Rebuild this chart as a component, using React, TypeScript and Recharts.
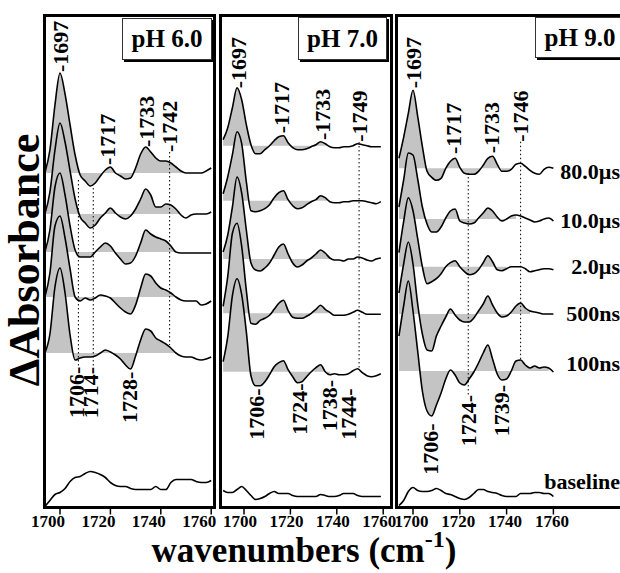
import {
  Area,
  ComposedChart,
  Line,
  ReferenceArea,
  ReferenceDot,
  ReferenceLine,
  XAxis,
  YAxis,
} from "recharts";

const FONT = "'Liberation Serif', 'Times New Roman', Times, serif";
const FILL = "#c4c4c4";

const tickValues = [1700, 1720, 1740, 1760];
const delayLabels = ["80.0µs", "10.0µs", "2.0µs", "500ns", "100ns"];

const wn6 = [
  1694, 1696, 1698, 1700, 1702, 1704, 1706, 1708, 1710, 1712, 1714, 1716,
  1718, 1720, 1722, 1724, 1726, 1728, 1730, 1732, 1734, 1736, 1738, 1740,
  1742, 1744, 1746, 1748, 1750, 1752, 1754, 1756, 1758, 1760,
];
const ph6_80us = [0, 23, 68, 100, 79, 48, 18, -2, -8, -13, -10, -3, 3, 6, 0, -3, -6, -5, 5, 19, 26, 21, 15, 12, 12, 10, 6, 2, 0, 0, 0, 0, 2, 5];
const ph6_10us = [0, 22, 64, 91, 72, 43, 15, -3, -9, -14, -11, -4, 1, 6, 1, -3, -5, -2, 5, 15, 25, 19, 7, 7, 10, 9, 5, -1, -4, -1, 0, 0, 0, 2];
const ph6_2us = [0, 22, 65, 79, 57, 26, 2, -5, -5, -5, 0, 5, 9, 6, -1, -7, -12, -11, -4, 9, 22, 18, 15, 13, 11, 6, 0, -1, -1, -1, -1, -1, -1, -1];
const ph6_500ns = [0, 24, 71, 81, 59, 28, 0, -4, -1, -3, -1, 2, 1, -1, -6, -11, -15, -17, -8, 9, 23, 21, 14, 9, 7, 4, 0, -3, -4, -4, -4, -8, -7, -4];
const ph6_100ns = [0, 19, 66, 85, 60, 18, -7, -5, -4, -4, -3, 0, 3, 1, -2, -6, -12, -16, -3, 13, 24, 22, 15, 12, 9, 5, 0, -3, -4, -4, -6, -7, -6, -4];
const ph6_base = [1, 7, 13, 15, 19, 26, 30, 31, 34, 36, 35, 33, 30, 25, 22, 21, 21, 19, 18, 18, 18, 18, 21, 18, 18, 25, 28, 28, 28, 28, 26, 25, 25, 27];
const ph6_offsets = [334.5, 293.5, 255.5, 210.5, 154.5];
const ph6_fillTo = [1750, 1748, 1746, 1746, 1746];

// ---- pH 7.0 ----
const wn7 = [
  1691, 1693, 1695, 1697, 1699, 1701, 1703, 1705, 1707, 1709, 1711, 1713,
  1715, 1717, 1719, 1721, 1723, 1725, 1727, 1729, 1731, 1733, 1735, 1737,
  1739, 1741, 1743, 1745, 1747, 1749, 1751, 1753, 1755, 1757, 1759,
];
const ph7_80us = [6, 18, 38, 58, 46, 21, 1, -8, -8, -4, 0, 5, 9, 10, 3, -2, -4, -4, -3, -1, 1, 4, 2, -1, -2, -2, -1, -1, 0, 2, 1, 0, -1, -1, -1];
const ph7_10us = [7, 24, 46, 69, 57, 19, -10, -11, -10, -8, -4, 3, 8, 10, 1, -5, -8, -7, -4, -1, 1, 5, 3, -1, -2, -2, -1, -1, 0, 0, 0, -1, -2, -3, -1];
const ph7_2us = [7, 24, 52, 82, 66, 29, -4, -11, -12, -9, -4, 4, 12, 15, 5, -4, -8, -6, -2, 1, 5, 9, 6, 1, -1, -1, -2, 0, 0, 2, 1, -1, -2, 0, 1];
const ph7_500ns = [7, 37, 80, 90, 67, 23, -10, -11, -7, -5, -2, 4, 10, 13, 3, -4, -5, -5, -3, 0, 4, 8, 4, 1, -2, -2, -2, -1, 1, 3, 1, -1, -1, -1, -1];
const ph7_100ns = [10, 35, 76, 93, 77, 40, -4, -14, -14, -10, -3, 5, 9, 11, 2, -5, -11, -10, -5, 0, 4, 7, 0, -3, -2, -3, -3, -2, 1, 3, -1, -4, -5, -4, -2];
const ph7_base = [17, 15, 15, 18, 21, 17, 12, 8, 9, 11, 14, 16, 14, 14, 14, 12, 11, 11, 11, 11, 11, 13, 12, 11, 11, 12, 14, 14, 14, 12, 11, 11, 11, 11, 11];
const ph7_offsets = [361.8, 306.8, 248.5, 194.2, 135.8];
const ph7_fillTo = [1737, 1737, 1737, 1737, 1737];

// ---- pH 9.0 ----
const wn9 = [
  1694, 1696, 1698, 1700, 1702, 1704, 1706, 1708, 1710, 1712, 1714, 1716,
  1718, 1720, 1722, 1724, 1726, 1728, 1730, 1732, 1734, 1736, 1738, 1740,
  1742, 1744, 1746, 1748, 1750, 1752, 1754, 1756, 1758, 1760,
];
const ph9_80us = [10, 31, 55, 78, 52, 22, -3, -9, -12, -10, 0, 7, 10, 1, -5, -6, -6, -3, 3, 10, 12, 4, -3, -3, -1, 4, 5, 2, -2, -5, -6, -1, 1, 0];
const ph9_10us = [12, 39, 66, 64, 40, 12, -5, -13, -13, -8, 1, 8, 10, -2, -4, -5, -4, 1, 6, 11, 8, 2, -2, 0, 3, 4, 3, 1, -1, -3, -2, 0, 1, -2];
const ph9_2us = [14, 45, 69, 56, 28, 0, -17, -15, -12, -7, 0, 4, 6, 0, -5, -8, -7, -3, 4, 11, 5, -3, -4, -2, 0, 0, 0, -2, -5, -4, -3, -2, -2, -3];
const ph9_500ns = [21, 50, 72, 50, 10, -20, -36, -37, -22, -12, -3, 5, -1, -6, -8, -8, -4, 3, 10, 18, 9, 1, -3, -2, 2, 8, 11, 6, 3, 2, 1, 0, 0, 0];
const ph9_100ns = [35, 65, 90, 60, 20, -20, -40, -45, -34, -22, -8, 1, -4, -12, -14, -8, -1, 8, 18, 26, 12, -3, -9, -8, 0, 10, 11, 6, 3, 5, 3, 4, 3, -1];
const ph9_base = [2, 7, 16, 20, 17, 16, 16, 17, 19, 17, 14, 13, 11, 9, 8, 10, 14, 18, 18, 16, 15, 14, 12, 11, 11, 11, 14, 14, 14, 15, 15, 14, 14, 11];
const ph9_offsets = [339.2, 288.5, 240.8, 193.5, 136.5];
const ph9_fillTo = [1742, 1744, 1740, 1750, 1758];

// peak labels: [text, wavenumber, absorbance]
const ph6_up = [["1697", 1700, 435.5], ["1717", 1719, 342.5], ["1733", 1734.5, 360.5], ["1742", 1743.5, 355.5]];
const ph6_down = [["1706", 1706.5, 140.8], ["1714", 1712.3, 140.5], ["1728", 1727.4, 135.8]];
const ph6_dotted = [[1707.3, 327.5, 140.5], [1713.2, 319.5, 140.5], [1743.5, 355.5, 162.5]];

const ph7_up = [["1697", 1697.5, 419.2], ["1717", 1716.2, 374.2], ["1733", 1733.8, 367.5], ["1749", 1749.6, 365.8]];
const ph7_down = [["1706", 1705.5, 119.2], ["1724", 1724.1, 124.2], ["1738", 1736.8, 127.5], ["1744", 1745, 119.2]];
const ph7_dotted = [[1749.6, 365.5, 137.5]];

const ph9_up = [["1697", 1700.1, 419.2], ["1717", 1717.2, 353.5], ["1733", 1733.6, 354.2], ["1746", 1746, 365.8]];
const ph9_down = [["1706", 1707.3, 84.2], ["1724", 1723.6, 112.5], ["1739", 1737.9, 122.5]];
const ph9_dotted = [[1723.6, 334.5, 112.5], [1746, 365.8, 147.5]];

const delayLabelY = [336.5, 287.5, 241.5, 194.5, 144.5];
const baselineLabelY = 26.5;

const panels = [
  {
    ph: "pH 6.0",
    wn: wn6,
    traces: [ph6_80us, ph6_10us, ph6_2us, ph6_500ns, ph6_100ns],
    base: ph6_base,
    offsets: ph6_offsets,
    fillTo: ph6_fillTo,
    up: ph6_up,
    down: ph6_down,
    dotted: ph6_dotted,
    geo: { left: 44.5, right: 214.5, x1700: 60, ppu: 2.52, tickDx: -12 },
    box: { left: 122, top: 18, width: 90, height: 42 },
  },
  {
    ph: "pH 7.0",
    wn: wn7,
    traces: [ph7_80us, ph7_10us, ph7_2us, ph7_500ns, ph7_100ns],
    base: ph7_base,
    offsets: ph7_offsets,
    fillTo: ph7_fillTo,
    up: ph7_up,
    down: ph7_down,
    dotted: ph7_dotted,
    geo: { left: 220.5, right: 391.5, x1700: 244, ppu: 2.32, tickDx: -4 },
    box: { left: 298, top: 17, width: 89, height: 43 },
  },
  {
    ph: "pH 9.0",
    wn: wn9,
    traces: [ph9_80us, ph9_10us, ph9_2us, ph9_500ns, ph9_100ns],
    base: ph9_base,
    offsets: ph9_offsets,
    fillTo: ph9_fillTo,
    up: ph9_up,
    down: ph9_down,
    dotted: ph9_dotted,
    geo: { left: 396.5, right: 623.5, x1700: 413, ppu: 2.34, tickDx: -1.5 },
    box: { left: 535, top: 17, width: 90, height: 41 },
  },
];

function buildRows(p: any) {
  return p.wn.map((w: number, i: number) => {
    const row: Record<string, any> = { w, base: p.base[i] };
    p.traces.forEach((t: number[], k: number) => {
      const top = p.offsets[k] + t[i];
      row[`l${k}`] = top;
      row[`f${k}`] = w <= p.fillTo[k] ? [p.offsets[k], top] : null;
    });
    return row;
  });
}

const vText = (text: string, anchor: "start" | "end") => (props: any) => (
  <text
    x={props.cx}
    y={props.cy}
    transform={`rotate(-90 ${props.cx} ${props.cy})`}
    textAnchor={anchor}
    dominantBaseline="central"
    fontFamily={FONT}
    fontWeight="bold"
    fontSize={22}
    fill="#000"
  >
    {text}
  </text>
);

const hText = (text: string) => (props: any) => (
  <text
    x={props.cx}
    y={props.cy}
    textAnchor="end"
    dominantBaseline="central"
    fontFamily={FONT}
    fontWeight="bold"
    fontSize={22}
    fill="#000"
  >
    {text}
  </text>
);

const makeTick = (dx: number) => (props: any) => (
  <text
    x={props.x + dx}
    y={props.y + 10}
    textAnchor="middle"
    fontFamily={FONT}
    fontWeight="bold"
    fontSize={17}
    fill="#000"
  >
    {props.payload.value}
  </text>
);

function SpectraPanel({ p, last }: { p: any; last: boolean }) {
  const g = p.geo;
  const rows = buildRows(p);
  const domain = [
    1700 - (g.x1700 - g.left) / g.ppu,
    1700 + (g.right - g.x1700) / g.ppu,
  ];
  return (
    <div style={{ position: "absolute", left: 0, top: 0 }}>
      <ComposedChart
        width={630}
        height={573}
        data={rows}
        margin={{ top: 15.5, bottom: 35.5, left: g.left, right: 630 - g.right }}
      >
        <XAxis
          dataKey="w"
          type="number"
          domain={domain}
          allowDataOverflow
          ticks={tickValues}
          interval={0}
          axisLine={false}
          tickSize={7}
          tickLine={{ stroke: "#000", strokeWidth: 1.5 }}
          tick={makeTick(g.tickDx)}
          height={30}
        />
        <YAxis hide type="number" domain={[0, 492]} allowDataOverflow />
        {p.traces.map((_: any, k: number) => (
          <Area
            key={`f${k}`}
            dataKey={`f${k}`}
            type="monotone"
            stroke="none"
            fill={FILL}
            fillOpacity={1}
            isAnimationActive={false}
          />
        ))}
        {p.traces.map((_: any, k: number) => (
          <Line
            key={`l${k}`}
            dataKey={`l${k}`}
            type="monotone"
            stroke="#000"
            strokeWidth={1.6}
            dot={false}
            isAnimationActive={false}
          />
        ))}
        <Line
          dataKey="base"
          type="monotone"
          stroke="#000"
          strokeWidth={1.6}
          dot={false}
          isAnimationActive={false}
        />
        {p.dotted.map((d: number[], i: number) => (
          <ReferenceLine
            key={`d${i}`}
            segment={[
              { x: d[0], y: d[1] },
              { x: d[0], y: d[2] },
            ]}
            stroke="#000"
            strokeWidth={1}
            strokeDasharray="1.5 2.5"
          />
        ))}
        {p.up.map((a: any[], i: number) => (
          <ReferenceDot
            key={`u${i}`}
            x={a[1]}
            y={a[2]}
            ifOverflow="visible"
            shape={vText("-" + a[0], "start")}
          />
        ))}
        {p.down.map((a: any[], i: number) => (
          <ReferenceDot
            key={`n${i}`}
            x={a[1]}
            y={a[2]}
            ifOverflow="visible"
            shape={vText(a[0] + "-", "end")}
          />
        ))}
        {last &&
          delayLabels.map((t, i) => (
            <ReferenceDot
              key={`t${i}`}
              x={1788.5}
              y={delayLabelY[i]}
              ifOverflow="visible"
              shape={hText(t)}
            />
          ))}
        {last && (
          <ReferenceDot
            x={1788.5}
            y={baselineLabelY}
            ifOverflow="visible"
            shape={hText("baseline")}
          />
        )}
        <ReferenceArea
          x1={domain[0]}
          x2={domain[1]}
          y1={0}
          y2={492}
          fill="none"
          stroke="#000"
          strokeWidth={3}
          ifOverflow="visible"
        />
      </ComposedChart>
    </div>
  );
}

export default function App() {
  return (
    <div
      style={{
        position: "absolute",
        left: 0,
        top: 0,
        width: 620,
        height: 573,
        overflow: "hidden",
        background: "#fff",
        fontFamily: FONT,
      }}
    >
      {panels.map((p, i) => (
        <SpectraPanel key={p.ph} p={p} last={i === panels.length - 1} />
      ))}
      {panels.map((p) => (
        <div
          key={`box-${p.ph}`}
          style={{
            position: "absolute",
            left: p.box.left,
            top: p.box.top,
            width: p.box.width,
            height: p.box.height,
            boxSizing: "border-box",
            border: "1px solid #333",
            boxShadow: "2px 2px 0 #000",
            background: "#fff",
            textAlign: "center",
            lineHeight: `${p.box.height - 2}px`,
            fontSize: 25,
            fontWeight: "bold",
            whiteSpace: "nowrap",
          }}
        >
          {p.ph}
        </div>
      ))}
      <div
        style={{
          position: "absolute",
          left: 25,
          top: 260,
          transform: "translate(-50%, -50%) rotate(-90deg)",
          fontSize: 44,
          fontWeight: "bold",
          lineHeight: 1,
          whiteSpace: "nowrap",
        }}
      >
        ΔAbsorbance
      </div>
      <div
        style={{
          position: "absolute",
          left: 304,
          top: 537,
          transform: "translateX(-50%)",
          fontSize: 35,
          fontWeight: "bold",
          lineHeight: "28px",
          whiteSpace: "nowrap",
        }}
      >
        wavenumbers (cm
        <span style={{ fontSize: 24, position: "relative", top: -15, lineHeight: "20px" }}>-1</span>)
      </div>
    </div>
  );
}
